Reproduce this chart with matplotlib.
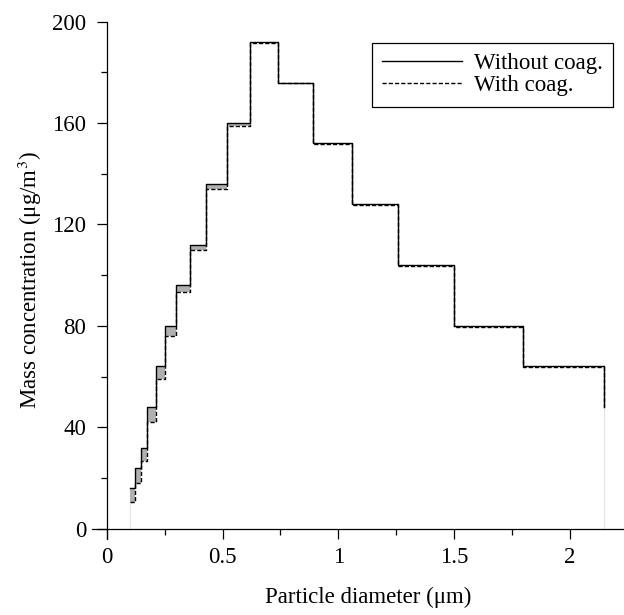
import numpy as np
import matplotlib
matplotlib.use('Agg')
import matplotlib.pyplot as plt
from matplotlib.ticker import MultipleLocator

plt.rcParams['font.family'] = ['Liberation Serif', 'DejaVu Serif']
plt.rcParams['mathtext.fontset'] = 'stix'

# size-bin edges (um) and mass concentration per bin (ug/m3)
bin_edges = [0.10, 0.12, 0.145, 0.175, 0.21, 0.25, 0.30, 0.36, 0.43, 0.52,
             0.62, 0.74, 0.89, 1.06, 1.26, 1.50, 1.80, 2.15]
mass_no_coag = [16, 24, 32, 48, 64, 80, 96, 112, 136, 160,
                192, 176, 152, 128, 104, 80, 64, 48]
mass_coag = [10.4, 18.2, 26.8, 42.2, 59.2, 76.0, 93.4, 110.0, 134.1, 158.7,
             191.7, 175.7, 151.7, 127.7, 103.7, 79.7, 63.7, 48]

x = np.array(bin_edges)
y1 = np.array(mass_no_coag)
y2 = np.array(mass_coag)

fs = 16.5

fig = plt.figure(figsize=(6.24, 6.15), dpi=100)
ax = fig.add_axes([0.1474, 0.1239, 0.8526, 0.8408])

# shaded loss due to coagulation
ax.fill_between(x, y2, y1, step='post', color='#b0b0b0', lw=0)

# faint outer edges down to zero
ax.plot([x[0], x[0]], [0, y2[0]], color='#e6e6e6', lw=1.0)
ax.plot([x[-1], x[-1]], [0, y2[-1]], color='#e6e6e6', lw=1.0)

ax.step(x, y1, where='post', color='black', lw=1.0, label='Without coag.')
ax.step(x, y2, where='post', color='black', lw=1.0, dashes=(3, 1.5),
        label='With coag.')

ax.set_xlim(-0.065, 2.235)
ax.set_ylim(-4, 200)

ax.spines['left'].set_position(('data', 0))
ax.spines['bottom'].set_position(('data', 0))
ax.spines['top'].set_visible(False)
ax.spines['right'].set_visible(False)
for s in ['left', 'bottom']:
    ax.spines[s].set_linewidth(0.9)

ax.xaxis.set_minor_locator(MultipleLocator(0.25))
ax.yaxis.set_minor_locator(MultipleLocator(20))
ax.set_xticks([0, 0.5, 1, 1.5, 2])
ax.set_xticklabels(['0', '0.5', '1', '1.5', '2'])
ax.set_yticks([0, 40, 80, 120, 160, 200])

ax.tick_params(which='major', direction='out', length=7, width=0.9,
               labelsize=fs)
ax.tick_params(axis='y', which='major', pad=8)
ax.tick_params(axis='x', which='major', pad=6)
ax.tick_params(which='minor', direction='out', length=4, width=0.9)

ax.set_xlabel('Particle diameter (\u03bcm)', fontsize=fs)
ax.set_ylabel('Mass concentration (\u03bcg/m$^3$)', fontsize=fs)
ax.xaxis.set_label_coords(0.52, -0.093)
ax.yaxis.set_label_coords(-0.09, 0.5)

leg = ax.legend(loc='upper right', bbox_to_anchor=(0.979, 0.959),
                fontsize=fs, handlelength=3.5, handletextpad=0.5,
                borderpad=0.45, labelspacing=0.05, fancybox=False,
                framealpha=1, edgecolor='black', borderaxespad=0)
leg.get_frame().set_linewidth(0.9)

plt.savefig('out.png', dpi=100)
